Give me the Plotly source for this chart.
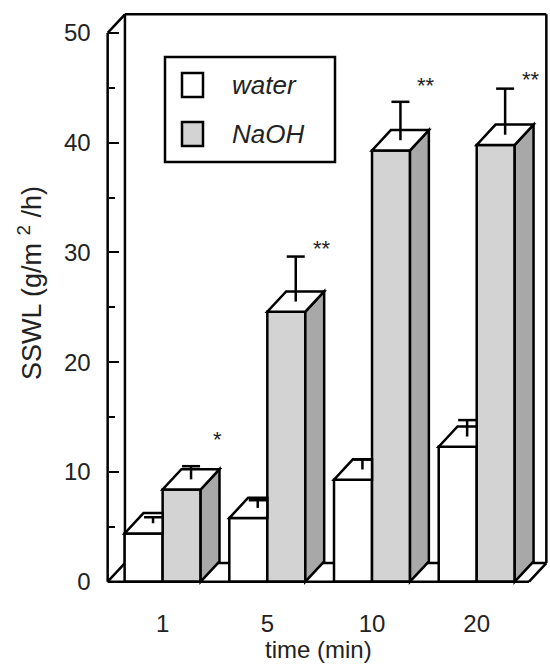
import plotly.graph_objects as go

# ---------------- data ----------------
categories = ["1", "5", "10", "20"]
water_mean = [4.4, 5.8, 9.3, 12.3]
water_se = [0.55, 0.7, 0.9, 1.5]
naoh_mean = [8.4, 24.6, 39.3, 39.8]
naoh_se = [1.2, 4.1, 3.5, 4.2]
stars = ["*", "**", "**", "**"]
star_y = [13.5, 30.9, 45.8, 46.3]
y_ticks = [0, 10, 20, 30, 40, 50]
y_minor = [5, 15, 25, 35, 45]

# ---------------- geometry / style ----------------
x_pos = list(range(len(categories)))
W = 0.363            # bar width (data units)
DX, DY = 0.18, 1.85  # bar depth offset
WDX, WDY = 0.165, 1.7  # wall depth offset
AX = -0.525          # front axis position
XR = 3.665           # back-right wall edge
YTOP = 50
X_RANGE = [-0.56, 3.70]
Y_RANGE = [-0.3, 52.0]
ML, MR, MT, MB = 104, 0, 11, 80
FW, FH = 550, 665
PW, PH = FW - ML - MR, FH - MT - MB

FONT = "Liberation Sans, Arial, Helvetica, sans-serif"
LW = 2.5
FRONT = "#d3d3d3"
SIDE = "#a8a8a8"


def px(x):
    return (x - ML) / PW


def py(y):
    return (FH - MB - y) / PH


fig = go.Figure()
fig.add_trace(go.Bar(x=x_pos, y=water_mean, offset=-W, width=W, name="water",
                     marker=dict(color="white", line=dict(color="black", width=LW)),
                     showlegend=False))
fig.add_trace(go.Bar(x=x_pos, y=naoh_mean, offset=0, width=W, name="NaOH",
                     marker=dict(color=FRONT, line=dict(color="black", width=LW)),
                     showlegend=False))

shapes = []


def line(x0, y0, x1, y1, layer="above", w=LW):
    shapes.append(dict(type="line", xref="x", yref="y", x0=x0, y0=y0, x1=x1, y1=y1,
                       line=dict(color="black", width=w), layer=layer))


def poly(pts, fill, layer="above"):
    p = "M " + " L ".join(f"{a},{b}" for a, b in pts) + " Z"
    shapes.append(dict(type="path", xref="x", yref="y", path=p, fillcolor=fill,
                       line=dict(color="black", width=LW), layer=layer))


# back wall and floor
line(AX + WDX, WDY, AX + WDX, YTOP + WDY, "below")
line(AX + WDX, YTOP + WDY, XR, YTOP + WDY, "below")
line(XR, YTOP + WDY, XR, WDY, "below")
line(AX + WDX, WDY, XR, WDY, "below")
line(AX, YTOP, AX + WDX, YTOP + WDY, "below")
line(AX, 0, AX + WDX, WDY, "below")
line(AX, 0, AX, YTOP, "below")
line(XR - WDX, 0, XR, WDY, "below")


def errbar(xc, yc, se):
    line(xc, yc, xc, yc + se)
    line(xc - 0.086, yc + se, xc + 0.086, yc + se)


for i in x_pos:
    # water bar: visible part of top
    x0, x1, h = i - W, i, water_mean[i]
    poly([(x0, h), (x1, h), (x1, h + DY), (x0 + DX, h + DY)], "white")
    errbar((x0 + x1) / 2 + DX / 2, h + DY / 2, water_se[i])
    # NaOH bar: side and top
    x0, x1, h = i, i + W, naoh_mean[i]
    poly([(x1, 0), (x1 + DX, DY), (x1 + DX, h + DY), (x1, h)], SIDE)
    poly([(x0, h), (x1, h), (x1 + DX, h + DY), (x0 + DX, h + DY)], "white")
    errbar((x0 + x1) / 2 + DX / 2, h + DY / 2, naoh_se[i])

# front baseline
line(AX, 0, XR - WDX, 0, "above")

# legend (manual)
shapes.append(dict(type="rect", xref="paper", yref="paper", x0=px(165), x1=px(335),
                   y0=py(162), y1=py(57), line=dict(color="black", width=LW),
                   fillcolor="white", layer="above"))
shapes.append(dict(type="rect", xref="paper", yref="paper", x0=px(182), x1=px(203),
                   y0=py(97), y1=py(73), line=dict(color="black", width=LW),
                   fillcolor="white", layer="above"))
shapes.append(dict(type="rect", xref="paper", yref="paper", x0=px(182), x1=px(203),
                   y0=py(146), y1=py(122), line=dict(color="black", width=LW),
                   fillcolor=FRONT, layer="above"))

annotations = [
    dict(text="<i>water</i>", xref="paper", yref="paper", x=px(230), y=py(85),
         xanchor="left", yanchor="middle", showarrow=False,
         font=dict(size=26, family=FONT, color="#222")),
    dict(text="<i>NaOH</i>", xref="paper", yref="paper", x=px(230), y=py(134),
         xanchor="left", yanchor="middle", showarrow=False,
         font=dict(size=26, family=FONT, color="#222")),
    dict(text="SSWL (g/m <sup>2</sup> /h)", xref="paper", yref="paper", x=px(30),
         y=py(283), textangle=-90, xanchor="center", yanchor="middle", showarrow=False,
         font=dict(size=27, family=FONT, color="#222")),
    dict(text="time (min)", xref="paper", yref="paper", x=px(318), y=py(649),
         xanchor="center", yanchor="middle", showarrow=False,
         font=dict(size=24, family=FONT, color="#222")),
]
for i in x_pos:
    annotations.append(dict(text=stars[i], xref="x", yref="y", x=i + 0.52, y=star_y[i],
                            yshift=-6, xanchor="center", yanchor="middle", showarrow=False,
                            font=dict(size=22, family=FONT, color="#222")))

fig.update_layout(
    width=FW, height=FH,
    margin=dict(l=ML, r=MR, t=MT, b=MB),
    paper_bgcolor="white", plot_bgcolor="white",
    barmode="overlay",
    shapes=shapes, annotations=annotations,
    font=dict(family=FONT, color="#222"),
    xaxis=dict(range=X_RANGE, tickvals=x_pos, ticktext=categories, ticks="",
               showline=False, showgrid=False, zeroline=False,
               tickfont=dict(size=24), ticklabelstandoff=22),
    yaxis=dict(range=Y_RANGE, tickvals=y_ticks, ticks="inside", ticklen=10, tickwidth=2,
               tickcolor="black", anchor="free",
               position=(AX - X_RANGE[0]) / (X_RANGE[1] - X_RANGE[0]),
               minor=dict(tickvals=y_minor, ticks="inside", ticklen=6, tickwidth=2,
                          tickcolor="black"),
               showline=False, showgrid=False, zeroline=False,
               tickfont=dict(size=24), ticklabelstandoff=17),
)

fig.write_html("out.html")
